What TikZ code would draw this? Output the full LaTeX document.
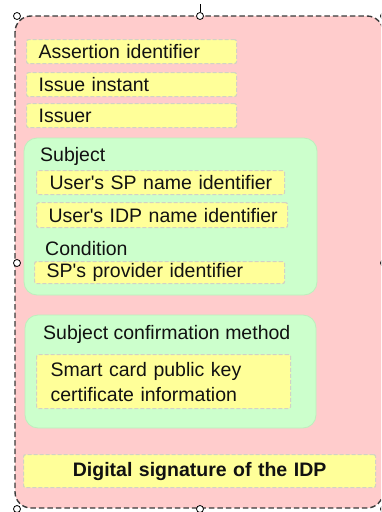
\documentclass[tikz,border=0pt]{standalone}
\usepackage{fontspec}
\setmainfont{Liberation Sans}
\definecolor{pinkbg}{HTML}{FFCCCC}
\definecolor{greenbg}{HTML}{CCFFCC}
\definecolor{greenedge}{HTML}{BDEFBD}
\definecolor{yellowbg}{HTML}{FFFF99}
\definecolor{ydash}{HTML}{D2D2C4}
\definecolor{outline}{HTML}{3A3A3A}
\definecolor{txt}{HTML}{111111}
\hbadness=10000 \hfuzz=100pt
\begin{document}
\begin{tikzpicture}[x=1pt,y=-1pt,
  every node/.style={text=txt},
  basefont/.style={font=\fontsize{19.5}{25}\selectfont},
  outerbox/.style={fill=pinkbg,draw=outline,line width=1.4pt,dash pattern=on 5.5pt off 3pt,rounded corners=16pt},
  greenbox/.style={fill=greenbg,draw=greenedge,line width=0.8pt,rounded corners=13pt},
  ybox/.style={basefont,fill=yellowbg,draw=ydash,line width=1.2pt,dash pattern=on 4pt off 2pt,rounded corners=2pt,
     anchor=north west,inner ysep=0pt,align=left},
  lbl/.style={basefont,anchor=west,inner sep=0pt},
  handle/.style={circle,draw=black,fill=white,line width=0.8pt,minimum size=7pt,inner sep=0pt}
]
\useasboundingbox (0,0) rectangle (381,512);
\clip (0,0) rectangle (381,512);
% outer assertion box
\draw[outerbox] (15,16) rectangle (383,508);
% yellow top boxes
\node[ybox,inner xsep=12pt,text width=186pt,minimum height=24pt] (aid) at (26,39) {\mbox{Assertion identifier}};
\node[ybox,inner xsep=12pt,text width=186pt,minimum height=24pt] (ins) at (26,72) {\mbox{Issue instant}};
\node[ybox,inner xsep=12pt,text width=186pt,minimum height=24pt] (iss) at (26,103) {\mbox{Issuer}};
% subject group
\draw[greenbox] (24,138) rectangle (317,295);
\node[lbl] (subj) at (40,156) {Subject};
\node[ybox,inner xsep=13pt,text width=222pt,minimum height=24pt] (spn) at (36,170) {\mbox{User\textquotesingle s SP name identifier}};
\node[ybox,inner xsep=12pt,text width=227pt,minimum height=25pt] (idpn) at (36,202) {\mbox{User\textquotesingle s IDP name identifier}};
\node[lbl] (cond) at (45,249) {Condition};
\node[ybox,inner xsep=12pt,text width=226pt,minimum height=22pt] (spp) at (34,261) {\mbox{SP\textquotesingle s provider identifier}};
% subject confirmation group
\draw[greenbox] (25,315) rectangle (316,428);
\node[lbl] (scm) at (43,334) {Subject confirmation method};
\node[ybox,inner xsep=14pt,text width=226pt,minimum height=54pt] (card) at (36,354) {\mbox{Smart card public key}\\\mbox{certificate information}};
% digital signature
\node[ybox,align=center,inner xsep=0pt,text width=352pt,minimum height=33pt,font=\fontsize{19.5}{25}\selectfont\bfseries] (sig) at (23,454) {\mbox{Digital signature of the IDP}};
% selection handles
\coordinate (rot) at (200,4);
\node[handle] (htl) at (17,16) {};
\node[handle] (htm) at (200,16) {};
\node[handle] (htr) at (384,16) {};
\node[handle] (hml) at (17,263) {};
\node[handle] (hmr) at (384,263) {};
\node[handle] (hbl) at (17,509) {};
\node[handle] (hbm) at (200,509) {};
\node[handle] (hbr) at (384,509) {};
\draw[line width=0.8pt] (rot) -- (htm.north);
\end{tikzpicture}
\end{document}
